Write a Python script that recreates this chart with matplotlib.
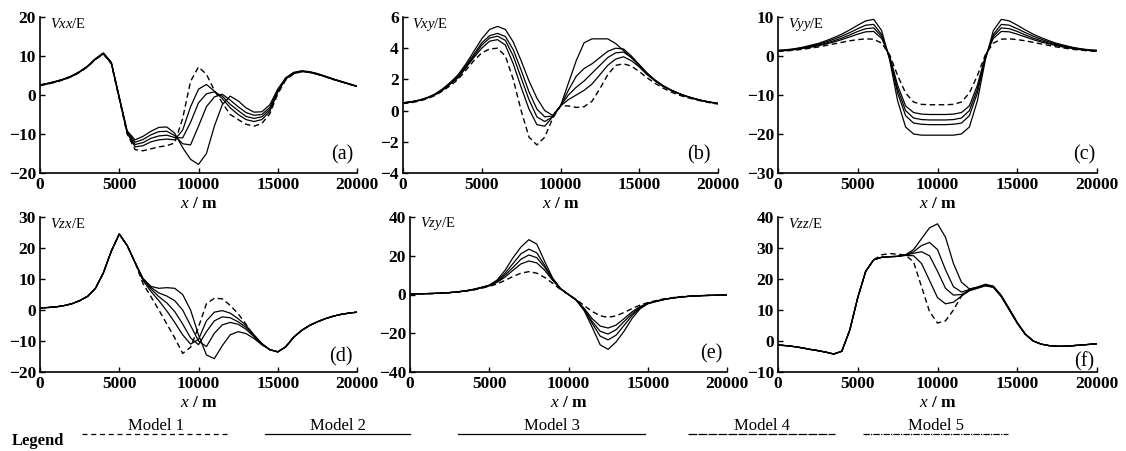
import numpy as np
import matplotlib
matplotlib.use("Agg")
import matplotlib.pyplot as plt
from matplotlib.lines import Line2D

plt.rcParams['font.family'] = 'Liberation Serif'
plt.rcParams['mathtext.fontset'] = 'custom'
plt.rcParams['mathtext.rm'] = 'Liberation Serif'
plt.rcParams['mathtext.it'] = 'Liberation Serif:italic'
plt.rcParams['mathtext.bf'] = 'Liberation Serif:bold'

# profile positions, m
x_m = np.arange(0, 20001, 500)

# Vxx (E), models 1..5
vxx_1 = [2.4, 2.8, 3.3, 3.9, 4.7, 5.8, 7.2, 9.1, 10.5, 8.0, -1.0, -10.0, -14.0, -14.3, -13.8, -13.3, -13.0, -12.3, -6.0, 3.5,
         7.2, 5.3, 1.2, -2.0, -5.0, -6.3, -7.5, -8.0, -7.3, -4.8, 0.3, 3.8, 5.4, 6.0, 5.8, 5.3, 4.7, 4.0, 3.4, 2.8, 2.2]
vxx_2 = [2.5, 2.9, 3.4, 4.0, 4.8, 5.9, 7.3, 9.2, 10.6, 8.1, -0.8, -9.8, -13.3, -13.0, -12.0, -11.5, -11.3, -11.5, -9.0, -3.0,
         1.5, 2.7, 1.0, -0.9, -3.3, -5.0, -6.3, -6.8, -6.3, -4.2, 0.7, 4.1, 5.5, 6.0, 5.8, 5.3, 4.7, 4.0, 3.4, 2.8, 2.2]
vxx_3 = [2.5, 2.9, 3.4, 4.0, 4.8, 5.9, 7.3, 9.2, 10.6, 8.2, -0.7, -9.6, -12.7, -12.2, -11.1, -10.5, -10.3, -10.9, -11.0, -7.0,
         -2.0, 0.3, 0.8, -0.3, -2.4, -4.0, -5.5, -6.0, -5.6, -3.7, 1.0, 4.2, 5.6, 6.1, 5.9, 5.4, 4.7, 4.0, 3.4, 2.8, 2.2]
vxx_4 = [2.6, 3.0, 3.5, 4.1, 4.9, 6.0, 7.4, 9.3, 10.7, 8.3, -0.6, -9.4, -12.1, -11.4, -10.2, -9.4, -9.3, -10.4, -12.5, -12.8,
         -8.0, -3.0, -0.5, 0.2, -1.3, -3.0, -4.5, -5.2, -5.0, -3.2, 1.2, 4.3, 5.7, 6.1, 5.9, 5.4, 4.8, 4.1, 3.5, 2.8, 2.2]
vxx_5 = [2.6, 3.0, 3.5, 4.1, 4.9, 6.0, 7.4, 9.3, 10.8, 8.4, -0.5, -9.2, -11.5, -10.6, -9.3, -8.3, -8.2, -9.8, -13.5, -16.5,
         -17.8, -15.0, -8.0, -2.5, -0.3, -1.5, -3.3, -4.4, -4.3, -2.5, 1.5, 4.4, 5.8, 6.2, 6.0, 5.5, 4.8, 4.1, 3.5, 2.9, 2.3]

# Vxy (E)
vxy_1 = [0.45, 0.5, 0.6, 0.75, 0.95, 1.25, 1.6, 2.0, 2.6, 3.2, 3.7, 3.95, 4.0, 3.5, 2.0, 0.0, -1.7, -2.2, -1.7, -0.5,
         0.3, 0.3, 0.2, 0.25, 0.6, 1.4, 2.3, 2.9, 3.0, 2.85, 2.5, 2.1, 1.75, 1.45, 1.2, 1.0, 0.85, 0.72, 0.6, 0.5, 0.42]
vxy_2 = [0.5, 0.55, 0.65, 0.8, 1.0, 1.3, 1.7, 2.1, 2.75, 3.4, 4.0, 4.45, 4.55, 4.2, 3.0, 1.5, 0.1, -0.9, -1.0, -0.4,
         0.3, 0.7, 1.0, 1.3, 1.7, 2.3, 2.9, 3.3, 3.45, 3.2, 2.8, 2.3, 1.9, 1.55, 1.3, 1.1, 0.9, 0.75, 0.63, 0.53, 0.45]
vxy_3 = [0.5, 0.55, 0.65, 0.8, 1.0, 1.3, 1.75, 2.15, 2.8, 3.5, 4.2, 4.65, 4.77, 4.5, 3.5, 2.1, 0.7, -0.4, -0.7, -0.4,
         0.3, 1.0, 1.5, 1.9, 2.4, 2.9, 3.4, 3.7, 3.75, 3.4, 2.9, 2.35, 1.95, 1.6, 1.32, 1.1, 0.92, 0.77, 0.64, 0.54, 0.46]
vxy_4 = [0.5, 0.55, 0.65, 0.8, 1.0, 1.35, 1.78, 2.2, 2.9, 3.6, 4.35, 4.8, 4.95, 4.75, 3.9, 2.6, 1.2, 0.1, -0.4, -0.35,
         0.3, 1.3, 2.2, 2.7, 3.0, 3.4, 3.8, 4.0, 3.95, 3.5, 2.95, 2.4, 1.95, 1.6, 1.33, 1.1, 0.92, 0.77, 0.64, 0.54, 0.46]
vxy_5 = [0.5, 0.57, 0.67, 0.82, 1.05, 1.38, 1.8, 2.3, 3.0, 3.8, 4.6, 5.2, 5.4, 5.2, 4.4, 3.2, 1.9, 0.8, 0.0, -0.3,
         0.3, 1.75, 3.2, 4.35, 4.6, 4.6, 4.6, 4.3, 3.85, 3.4, 2.9, 2.4, 1.95, 1.6, 1.33, 1.1, 0.92, 0.77, 0.64, 0.54, 0.46]

# Vyy (E)
vyy_1 = [1.2, 1.3, 1.5, 1.7, 2.0, 2.3, 2.7, 3.1, 3.5, 3.9, 4.2, 4.4, 4.3, 3.3, 0.3, -5.0, -9.5, -11.8, -12.4, -12.5,
         -12.5, -12.5, -12.4, -11.8, -9.5, -5.0, 0.3, 3.3, 4.3, 4.4, 4.2, 3.9, 3.5, 3.1, 2.7, 2.3, 2.0, 1.7, 1.5, 1.3, 1.2]
vyy_2 = [1.3, 1.4, 1.6, 1.9, 2.2, 2.6, 3.1, 3.6, 4.2, 4.9, 5.6, 6.2, 6.3, 4.5, 0.0, -7.5, -12.8, -14.5, -14.9, -15.0,
         -15.0, -15.0, -14.9, -14.5, -12.8, -7.5, 0.0, 4.5, 6.3, 6.2, 5.6, 4.9, 4.2, 3.6, 3.1, 2.6, 2.2, 1.9, 1.6, 1.4, 1.3]
vyy_3 = [1.35, 1.45, 1.7, 2.0, 2.4, 2.8, 3.3, 3.9, 4.6, 5.4, 6.3, 7.0, 7.2, 5.0, -0.3, -8.5, -14.0, -15.9, -16.3, -16.4,
         -16.4, -16.4, -16.3, -15.9, -14.0, -8.5, -0.3, 5.0, 7.2, 7.0, 6.3, 5.4, 4.6, 3.9, 3.3, 2.8, 2.4, 2.0, 1.7, 1.45, 1.35]
vyy_4 = [1.4, 1.5, 1.75, 2.1, 2.5, 3.0, 3.6, 4.3, 5.1, 6.0, 7.0, 7.9, 8.1, 5.5, -0.6, -9.5, -15.3, -17.2, -17.5, -17.6,
         -17.6, -17.6, -17.5, -17.2, -15.3, -9.5, -0.6, 5.5, 8.1, 7.9, 7.0, 6.0, 5.1, 4.3, 3.6, 3.0, 2.5, 2.1, 1.75, 1.5, 1.4]
vyy_5 = [1.45, 1.6, 1.85, 2.2, 2.7, 3.2, 3.9, 4.7, 5.6, 6.7, 7.9, 9.0, 9.4, 6.5, -1.0, -11.5, -18.2, -20.0, -20.3, -20.3,
         -20.3, -20.3, -20.3, -20.0, -18.2, -11.5, -1.0, 6.5, 9.4, 9.0, 7.9, 6.7, 5.6, 4.7, 3.9, 3.2, 2.7, 2.2, 1.85, 1.6, 1.45]

# Vzx (E)
vzx_1 = [0.7, 0.8, 1.0, 1.4, 2.0, 3.0, 4.4, 7.0, 12.0, 19.0, 24.5, 20.8, 15.3, 8.5, 4.3, 0.0, -4.5, -9.0, -14.0, -12.0,
         -5.5, 2.0, 3.8, 3.6, 1.5, -1.2, -4.6, -8.5, -11.2, -12.8, -13.5, -11.9, -8.8, -6.6, -5.0, -3.8, -2.8, -2.0, -1.4, -1.0, -0.7]
vzx_2 = [0.7, 0.8, 1.0, 1.4, 2.0, 3.0, 4.4, 7.0, 12.0, 19.0, 24.5, 20.8, 15.3, 9.5, 6.0, 3.0, -0.3, -4.0, -8.0, -11.0,
         -9.5, -3.5, -0.7, -0.2, -1.0, -2.8, -5.0, -8.0, -10.8, -12.8, -13.5, -11.9, -8.8, -6.6, -5.0, -3.8, -2.8, -2.0, -1.4, -1.0, -0.7]
vzx_3 = [0.7, 0.8, 1.0, 1.4, 2.0, 3.0, 4.4, 7.0, 12.0, 19.0, 24.5, 20.8, 15.3, 9.8, 6.8, 4.3, 2.3, -0.5, -4.5, -9.0,
         -11.2, -7.0, -3.5, -2.2, -2.5, -3.8, -5.6, -8.2, -10.9, -12.8, -13.5, -11.9, -8.8, -6.6, -5.0, -3.8, -2.8, -2.0, -1.4, -1.0, -0.7]
vzx_4 = [0.7, 0.8, 1.0, 1.4, 2.0, 3.0, 4.4, 7.0, 12.0, 19.0, 24.5, 20.8, 15.3, 10.0, 7.3, 5.5, 4.5, 3.0, 0.0, -5.0,
         -10.0, -11.8, -7.5, -4.8, -4.0, -4.6, -6.2, -8.6, -11.0, -12.8, -13.5, -11.9, -8.8, -6.6, -5.0, -3.8, -2.8, -2.0, -1.4, -1.0, -0.7]
vzx_5 = [0.7, 0.8, 1.0, 1.4, 2.0, 3.0, 4.4, 7.0, 12.0, 19.0, 24.5, 20.8, 15.3, 10.2, 7.6, 7.0, 7.2, 7.0, 5.0, 0.0,
         -8.0, -14.5, -15.7, -11.5, -8.0, -7.0, -7.6, -9.2, -11.2, -12.8, -13.5, -11.9, -8.8, -6.6, -5.0, -3.8, -2.8, -2.0, -1.4, -1.0, -0.7]

# Vzy (E)
vzy_1 = [0.3, 0.35, 0.4, 0.5, 0.7, 0.9, 1.2, 1.7, 2.3, 3.2, 4.2, 5.5, 7.3, 9.3, 11.0, 11.8, 11.0, 8.8, 5.8, 2.6,
         0.0, -2.6, -5.8, -8.8, -11.0, -11.8, -11.0, -9.3, -7.3, -5.5, -4.2, -3.2, -2.3, -1.7, -1.2, -0.9, -0.7, -0.5, -0.4, -0.3, -0.2]
vzy_2 = [0.3, 0.35, 0.45, 0.55, 0.75, 1.0, 1.3, 1.8, 2.5, 3.4, 4.5, 6.3, 9.0, 12.5, 15.8, 17.3, 16.3, 12.5, 7.3, 2.8,
         0.0, -2.8, -7.3, -12.5, -16.3, -17.3, -15.8, -12.5, -9.0, -6.3, -4.5, -3.4, -2.5, -1.8, -1.3, -1.0, -0.75, -0.55, -0.45, -0.35, -0.2]
vzy_3 = [0.3, 0.35, 0.45, 0.55, 0.75, 1.0, 1.35, 1.85, 2.55, 3.5, 4.6, 6.6, 10.0, 14.0, 18.2, 20.4, 19.0, 14.0, 7.8, 3.0,
         0.0, -3.0, -7.8, -14.0, -19.0, -20.4, -18.2, -14.0, -10.0, -6.6, -4.6, -3.5, -2.55, -1.85, -1.35, -1.0, -0.75, -0.55, -0.45, -0.35, -0.2]
vzy_4 = [0.3, 0.35, 0.45, 0.55, 0.75, 1.0, 1.35, 1.9, 2.6, 3.6, 4.7, 7.0, 11.0, 16.0, 21.0, 23.4, 21.5, 15.0, 8.0, 3.0,
         0.0, -3.0, -8.0, -15.0, -21.5, -23.4, -21.0, -16.0, -11.0, -7.0, -4.7, -3.6, -2.6, -1.9, -1.35, -1.0, -0.75, -0.55, -0.45, -0.35, -0.2]
vzy_5 = [0.3, 0.35, 0.45, 0.55, 0.75, 1.0, 1.4, 1.95, 2.7, 3.7, 4.8, 7.5, 12.5, 19.0, 24.5, 28.3, 26.0, 17.0, 8.5, 3.0,
         0.0, -3.0, -8.5, -17.0, -26.0, -28.3, -24.5, -19.0, -12.5, -7.5, -4.8, -3.7, -2.7, -1.95, -1.4, -1.0, -0.75, -0.55, -0.45, -0.35, -0.2]

# Vzz (E)
vzz_1 = [-1.3, -1.5, -1.8, -2.2, -2.7, -3.1, -3.6, -4.2, -3.3, 3.5, 14.0, 22.5, 26.2, 27.8, 28.2, 28.0, 27.7, 25.5, 17.5, 9.5,
         5.8, 6.5, 10.0, 14.5, 16.5, 17.2, 18.0, 17.5, 14.5, 10.2, 5.8, 2.2, 0.0, -1.0, -1.5, -1.7, -1.7, -1.5, -1.3, -1.1, -0.9]
vzz_2 = [-1.3, -1.5, -1.8, -2.2, -2.7, -3.1, -3.6, -4.2, -3.3, 3.5, 14.0, 22.5, 26.2, 27.0, 27.2, 27.3, 27.6, 27.5, 25.0, 19.5,
         14.0, 12.0, 12.5, 14.5, 16.2, 17.0, 17.8, 17.3, 14.3, 10.0, 5.7, 2.1, 0.0, -1.0, -1.5, -1.7, -1.7, -1.5, -1.3, -1.1, -0.9]
vzz_3 = [-1.3, -1.5, -1.8, -2.2, -2.7, -3.1, -3.6, -4.2, -3.3, 3.5, 14.0, 22.5, 26.2, 27.0, 27.2, 27.3, 27.7, 28.3, 28.8, 27.5,
         22.5, 17.0, 14.8, 15.0, 16.4, 17.1, 17.9, 17.4, 14.4, 10.1, 5.8, 2.2, 0.0, -1.0, -1.5, -1.7, -1.7, -1.5, -1.3, -1.1, -0.9]
vzz_4 = [-1.3, -1.5, -1.8, -2.2, -2.7, -3.1, -3.6, -4.2, -3.3, 3.5, 14.0, 22.5, 26.2, 27.0, 27.2, 27.3, 27.8, 28.8, 30.8, 31.8,
         29.5, 23.0, 17.5, 15.8, 16.6, 17.3, 18.1, 17.6, 14.6, 10.3, 5.9, 2.3, 0.0, -1.0, -1.5, -1.7, -1.7, -1.5, -1.3, -1.1, -0.9]
vzz_5 = [-1.3, -1.5, -1.8, -2.2, -2.7, -3.1, -3.6, -4.2, -3.3, 3.5, 14.0, 22.5, 26.2, 27.0, 27.2, 27.3, 27.8, 29.5, 33.0, 36.5,
         37.8, 33.5, 25.0, 19.0, 16.8, 17.4, 18.3, 17.7, 14.7, 10.4, 6.0, 2.3, 0.0, -1.0, -1.5, -1.7, -1.7, -1.5, -1.3, -1.1, -0.9]

panels = [
    ("Vxx", [vxx_1, vxx_2, vxx_3, vxx_4, vxx_5], (-20, 20), [-20, -10, 0, 10, 20], "(a)"),
    ("Vxy", [vxy_1, vxy_2, vxy_3, vxy_4, vxy_5], (-4, 6), [-4, -2, 0, 2, 4, 6], "(b)"),
    ("Vyy", [vyy_1, vyy_2, vyy_3, vyy_4, vyy_5], (-30, 10), [-30, -20, -10, 0, 10], "(c)"),
    ("Vzx", [vzx_1, vzx_2, vzx_3, vzx_4, vzx_5], (-20, 30), [-20, -10, 0, 10, 20, 30], "(d)"),
    ("Vzy", [vzy_1, vzy_2, vzy_3, vzy_4, vzy_5], (-40, 40), [-40, -20, 0, 20, 40], "(e)"),
    ("Vzz", [vzz_1, vzz_2, vzz_3, vzz_4, vzz_5], (-10, 40), [-10, 0, 10, 20, 30, 40], "(f)"),
]
x_ticks = [0, 5000, 10000, 15000, 20000]
model_names = ["Model 1", "Model 2", "Model 3", "Model 4", "Model 5"]

W, H = 1126, 451
fig = plt.figure(figsize=(W / 100, H / 100), dpi=100)

# pixel boxes (left, right, top, bottom) of each panel
boxes = [(40, 357, 17, 173), (403, 718, 17, 173), (778, 1097, 17, 173),
         (40, 357, 217, 372), (410, 727, 217, 372), (778, 1097, 217, 372)]
tag_pos = [(0.987, 0.115), (0.975, 0.115), (0.994, 0.115),
           (0.985, 0.097), (0.985, 0.12), (0.99, 0.065)]

for (name, series, ylim, yticks, tag), (l, r, t, b), tp in zip(panels, boxes, tag_pos):
    ax = fig.add_axes([l / W, 1 - b / H, (r - l) / W, (b - t) / H])
    for i, s in enumerate(series):
        if i == 0:
            ax.plot(x_m, s, color="black", lw=1.0, ls=(0, (4, 2.5)))
        else:
            ax.plot(x_m, s, color="black", lw=0.9)
    ax.set_xlim(0, 20000)
    ax.set_ylim(*ylim)
    ax.set_xticks(x_ticks)
    ax.set_yticks(yticks)
    ax.spines["top"].set_visible(False)
    ax.spines["right"].set_visible(False)
    ax.spines["left"].set_linewidth(1.2)
    ax.spines["bottom"].set_linewidth(1.2)
    ax.tick_params(direction="in", length=3.5, width=1.0, labelsize=12.5, pad=3)
    for lab in ax.get_xticklabels() + ax.get_yticklabels():
        lab.set_fontweight("bold")
    ax.set_xlabel(r"$\mathbf{\mathit{x}}$ / m", fontsize=12.5, fontweight="bold", labelpad=2)
    ax.text(0.03, 0.955, r"$\mathit{" + name + "}$/E", transform=ax.transAxes,
            fontsize=10.5, ha="left", va="center")
    ax.text(tp[0], tp[1], tag, transform=ax.transAxes, fontsize=14.5,
            ha="right", va="center")

# legend row
fig.text(12 / W, 1 - 441 / H, "Legend", fontsize=12, fontweight="bold", ha="left", va="center")
leg_spans = [(82, 229), (265, 410), (458, 645), (688, 835), (863, 1008)]
leg_styles = [(0, (4, 3)), "-", "-", (0, (7, 1)), (0, (5, 1, 1, 1))]
for (x0, x1), name, st in zip(leg_spans, model_names, leg_styles):
    fig.add_artist(Line2D([x0 / W, x1 / W], [1 - 434 / H, 1 - 434 / H],
                          transform=fig.transFigure, color="black", lw=0.9, ls=st))
    fig.text((x0 + x1) / 2 / W, 1 - 426 / H, name, fontsize=12, ha="center", va="center")

fig.savefig("out.png", dpi=100)
